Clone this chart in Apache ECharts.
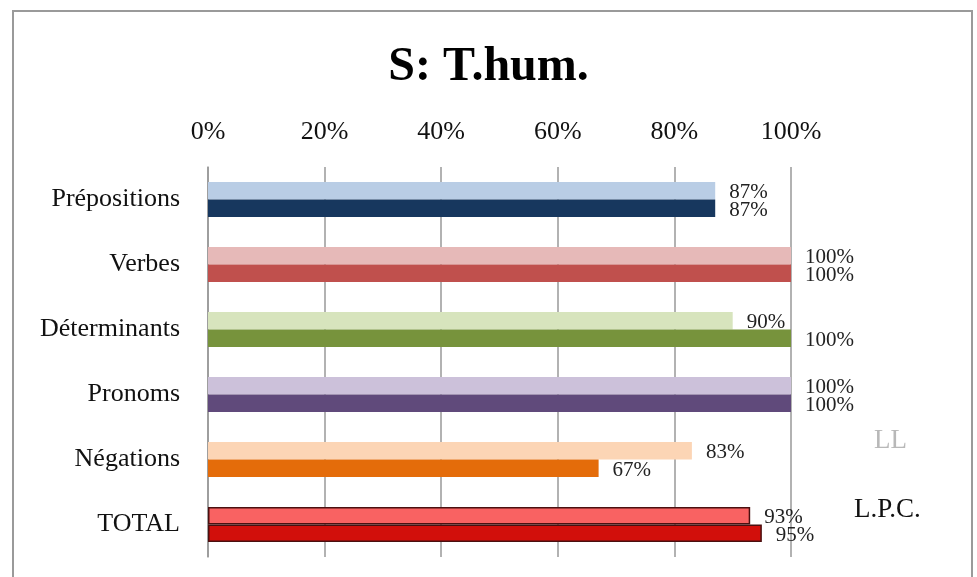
<!DOCTYPE html>
<html>
<head>
<meta charset="utf-8">
<script src="https://cdn.jsdelivr.net/npm/echarts@6/dist/echarts.min.js"></script>
<style>
  html, body { margin: 0; padding: 0; background: #fff; }
  #chart { width: 977px; height: 577px; }
</style>
</head>
<body>
<div id="chart"></div>
<script>
// categories and values
const categories = ['Prépositions', 'Verbes', 'Déterminants', 'Pronoms', 'Négations', 'TOTAL'];
const llValues = [87, 100, 90, 100, 83, 93];
const lpcValues = [87, 100, 100, 100, 67, 95];
const xTicks = [0, 20, 40, 60, 80, 100];

// colours for each category (light = LL, dark = L.P.C.)
const llColors = ['#b9cde5', '#e6b9b8', '#d7e4bd', '#ccc1da', '#fcd5b5', '#f96262'];
const lpcColors = ['#17375e', '#c0504d', '#77933c', '#604a7b', '#e46c0a', '#d20f0b'];

const serif = '"Liberation Serif", "DejaVu Serif", serif';

const chart = echarts.init(document.getElementById('chart'));

function barData(values, colors) {
    return values.map(function (v, i) {
        const item = { value: v, itemStyle: { color: colors[i] } };
        // TOTAL bars have a dark outline
        if (categories[i] === 'TOTAL') {
            item.itemStyle.borderColor = '#4a1010';
            item.itemStyle.borderWidth = 1.5;
        }
        return item;
    });
}

const labelStyle = {
    show: true,
    position: 'right',
    distance: 14,
    offset: [0, 2],
    formatter: '{c}%',
    fontFamily: serif,
    fontSize: 21,
    color: '#222'
};

const option = {
    animation: false,
    title: {
        text: 'S: T.hum.',
        left: 'center',
        top: 39,
        textStyle: { fontFamily: serif, fontSize: 48, fontWeight: 'bold', color: '#000' }
    },
    legend: {
        orient: 'vertical',
        left: 844,
        top: 422,
        icon: 'none',
        itemWidth: 0,
        itemGap: 42,
        selectedMode: false,
        textStyle: { fontFamily: serif, fontSize: 27 },
        data: [
            { name: 'LL', textStyle: { color: '#b8b8b8', padding: [0, 0, 0, 20] } },
            { name: 'L.P.C.', textStyle: { color: '#111' } }
        ]
    },
    graphic: [{
        type: 'rect',
        silent: true,
        shape: { x: 13, y: 11, width: 959, height: 600 },
        style: { fill: 'none', stroke: '#9a9a9a', lineWidth: 2 }
    }],
    grid: { left: 208, right: 186, top: 167, bottom: 20 },
    xAxis: {
        type: 'value',
        position: 'top',
        min: xTicks[0],
        max: xTicks[xTicks.length - 1],
        interval: 20,
        axisLine: { show: false },
        axisTick: { show: false },
        axisLabel: {
            formatter: '{value}%',
            fontFamily: serif,
            fontSize: 26,
            color: '#111',
            margin: 22
        },
        splitLine: { lineStyle: { color: '#999', width: 1.5 } }
    },
    yAxis: {
        type: 'category',
        inverse: true,
        data: categories,
        axisLine: { lineStyle: { color: '#999', width: 1.5 } },
        axisTick: { length: 8, lineStyle: { color: '#999', width: 1.5 } },
        axisLabel: { fontFamily: serif, fontSize: 26, color: '#111', margin: 28 }
    },
    series: [
        {
            name: 'LL',
            type: 'bar',
            barGap: '0%',
            barCategoryGap: '46%',
            data: barData(llValues, llColors),
            label: labelStyle
        },
        {
            name: 'L.P.C.',
            type: 'bar',
            barGap: '0%',
            barCategoryGap: '46%',
            data: barData(lpcValues, lpcColors),
            label: labelStyle
        }
    ]
};

chart.setOption(option);
</script>
</body>
</html>
